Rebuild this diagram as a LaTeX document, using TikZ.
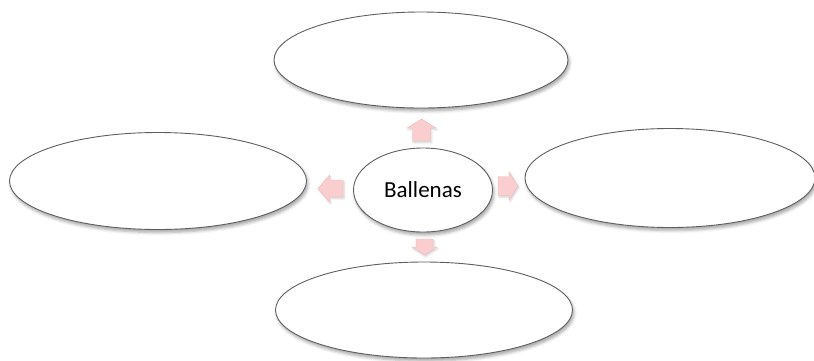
\documentclass[tikz,border=0pt]{standalone}
\usepackage{fontspec}
\setmainfont{Carlito}
\usetikzlibrary{shapes.geometric,shadows.blur}
\definecolor{ringgray}{RGB}{95,95,95}
\definecolor{arrowpink}{RGB}{250,206,206}
\definecolor{arrowedge}{RGB}{240,185,185}
\tikzset{
  bubble/.style={ellipse, draw=ringgray, line width=0.9pt, fill=white, inner sep=0pt,
    blur shadow={shadow xshift=1.5pt, shadow yshift=-3pt, shadow blur radius=3pt, shadow opacity=35}},
  blockarrow/.style={fill=arrowpink, draw=arrowedge, line width=0.4pt,
    blur shadow={shadow xshift=1pt, shadow yshift=-1.5pt, shadow blur radius=2pt, shadow opacity=20}},
}
\begin{document}
\begin{tikzpicture}[x=1pt,y=-1pt]
\useasboundingbox (0,0) rectangle (814,360);
% satellite ellipses
\node[bubble, minimum width=294pt, minimum height=96pt] (top) at (421,60) {};
\node[bubble, minimum width=297pt, minimum height=97pt] (left) at (158,181) {};
\node[bubble, minimum width=290pt, minimum height=99pt] (right) at (670,178) {};
\node[bubble, minimum width=297pt, minimum height=96pt] (bottom) at (424,310) {};
% center
\node[bubble, minimum width=139pt, minimum height=84pt, font=\fontsize{23}{28}\selectfont] (center) at (423,190) {Ballenas};
% block arrows
\path[blockarrow, shift={(421.5,130)}, rotate=-90]
  (11,-9) -- (-2,-9) -- (-2,-14.5) -- (-11,0) -- (-2,14.5) -- (-2,9) -- (11,9) -- cycle;
\path[blockarrow, shift={(330.5,188.5)}]
  (12.5,-8.5) -- (-1,-8.5) -- (-1,-13.5) -- (-12.5,0) -- (-1,13.5) -- (-1,8.5) -- (12.5,8.5) -- cycle;
\path[blockarrow, shift={(508,186)}]
  (-10,-9.5) -- (1,-9.5) -- (1,-14) -- (10,0) -- (1,14) -- (1,9.5) -- (-10,9.5) -- cycle;
\path[blockarrow, shift={(424.5,247)}, rotate=-90]
  (-8,-8.5) -- (0,-8.5) -- (0,-12.5) -- (8,0) -- (0,12.5) -- (0,8.5) -- (-8,8.5) -- cycle;
\end{tikzpicture}
\end{document}
